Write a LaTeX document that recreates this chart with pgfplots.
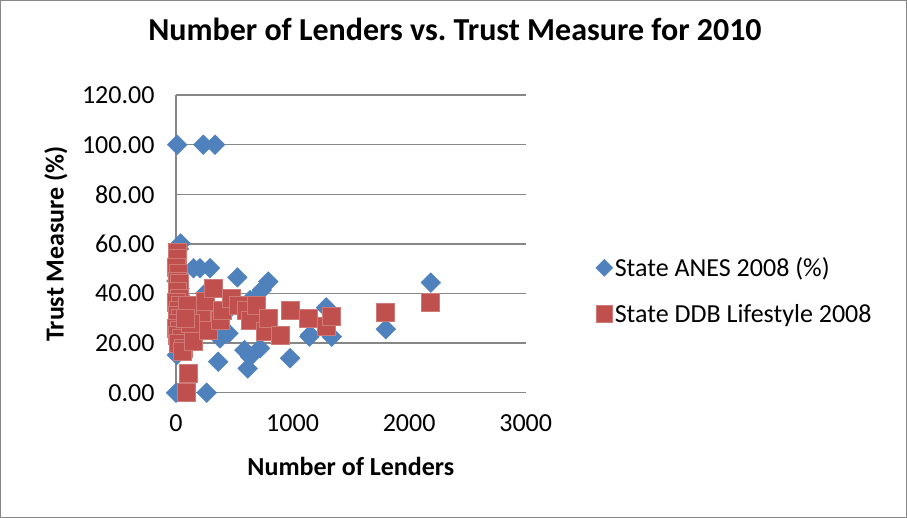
\documentclass[border=0pt]{standalone}
\usepackage{pgfplots}
\pgfplotsset{compat=1.18}
\usepackage{fontspec}
\setmainfont{Carlito}
\definecolor{anes}{HTML}{4F81BD}
\definecolor{ddb}{HTML}{C0504D}
\definecolor{ddbedge}{HTML}{D07A77}
\definecolor{gridc}{HTML}{878787}
\begin{document}
\frenchspacing
\begin{tikzpicture}
\draw[gridc, line width=1.2pt] (0.6pt,0.6pt) rectangle (906.4pt,517.4pt);
\begin{axis}[
  at={(176pt,125.3pt)}, anchor=south west,
  scale only axis, width=349.7pt, height=297.6pt,
  xmin=0, xmax=3000, ymin=0, ymax=120,
  xtick={0,1000,2000,3000}, ytick={0,20,...,120},
  axis x line*=bottom, axis y line*=left,
  axis line style={gridc, line width=1.5pt, -},
  major tick length=0pt,
  ymajorgrids, major grid style={gridc, line width=1.5pt},
  clip=false,
  font=\fontsize{26pt}{30pt}\selectfont,
  /pgf/number format/assume math mode=true,
  yticklabel style={/pgf/number format/.cd, fixed, fixed zerofill, precision=2, /tikz/.cd, xshift=-18pt},
  xticklabel style={/pgf/number format/.cd, 1000 sep={}, /tikz/.cd, yshift=-18pt},
  scaled x ticks=false,
  xlabel={\bfseries Number of Lenders},
  ylabel={\bfseries Trust Measure (\%)},
  xlabel style={at={(axis description cs:0.5,0)}, anchor=center, yshift=-74pt},
  ylabel style={at={(axis description cs:0,0.5)}, anchor=center, yshift=120pt},
  title={\bfseries Number of Lenders vs. Trust Measure for 2010},
  title style={font=\fontsize{32pt}{36pt}\selectfont, anchor=base, at={(axis description cs:0.798,1.1616)}},
  legend style={at={(axis description cs:1.2,0.343)}, anchor=west, draw=none, fill=none,
    inner sep=0pt, row sep=22pt, font=\fontsize{26pt}{30pt}\selectfont, cells={anchor=west}},
]
\addplot[only marks, mark=square*, mark size=7pt, mark options={rotate=45, fill=anes, draw=anes},
  legend image code/.code={\draw[mark=square*, mark size=6pt, mark options={rotate=45, fill=anes, draw=anes}] plot coordinates {(0pt,0pt)};}]
coordinates {
(10,100) (234,100) (335,100) (40,60.2) (25,58) (150,50.2) (206,50.2) (292,50.2)
(526,46.5) (792,44.8) (735,41.4) (1288,34.4) (1144,22.6) (1336,22.6) (378,21.9)
(587,17.2) (721,17.9) (635,14.5) (362,12.5) (979,13.9) (615,9.8) (6,15.2) (0,0)
(263,0) (2186,44.4) (1800,25.6) (1293,34) (1150,23.3)
(5,45) (10,38) (20,30) (15,25) (30,42) (60,33) (100,36) (180,28) (250,40)
(420,32) (680,38) (450,24) (635,37.3) (435,32.7)
};
\addlegendentry{State ANES 2008 (\%)}
\addplot[only marks, mark=square*, mark size=9pt, mark options={fill=ddb, draw=ddbedge, line width=0.8pt},
  legend image code/.code={\draw[mark=square*, mark size=8.3pt, mark options={fill=ddb, draw=ddbedge, line width=0.8pt}] plot coordinates {(0pt,0pt)};}]
coordinates {
(10,56.5) (15,54) (5,50.5) (20,48) (8,45) (30,44) (12,41) (25,38) (5,36.5) (40,35)
(18,33) (8,31) (35,30) (15,28) (5,26) (28,25) (10,23) (45,22) (20,20) (60,18) (55,16.5)
(106,7.8) (86,0) (150,25.3) (150,20.6) (220,30.6) (249,36.7) (278,25.3) (320,42.1)
(378,29.3) (400,33) (478,38) (535,35.4) (607,33.3) (635,29.3) (693,35.4) (764,24.6)
(792,30) (893,23.3) (979,33.3) (1136,30) (1293,26.6) (1336,30.6) (1800,32.3) (2186,36.3)
(100,35) (120,28) (80,30)
};
\addlegendentry{State DDB Lifestyle 2008}
\end{axis}
\end{tikzpicture}
\end{document}
